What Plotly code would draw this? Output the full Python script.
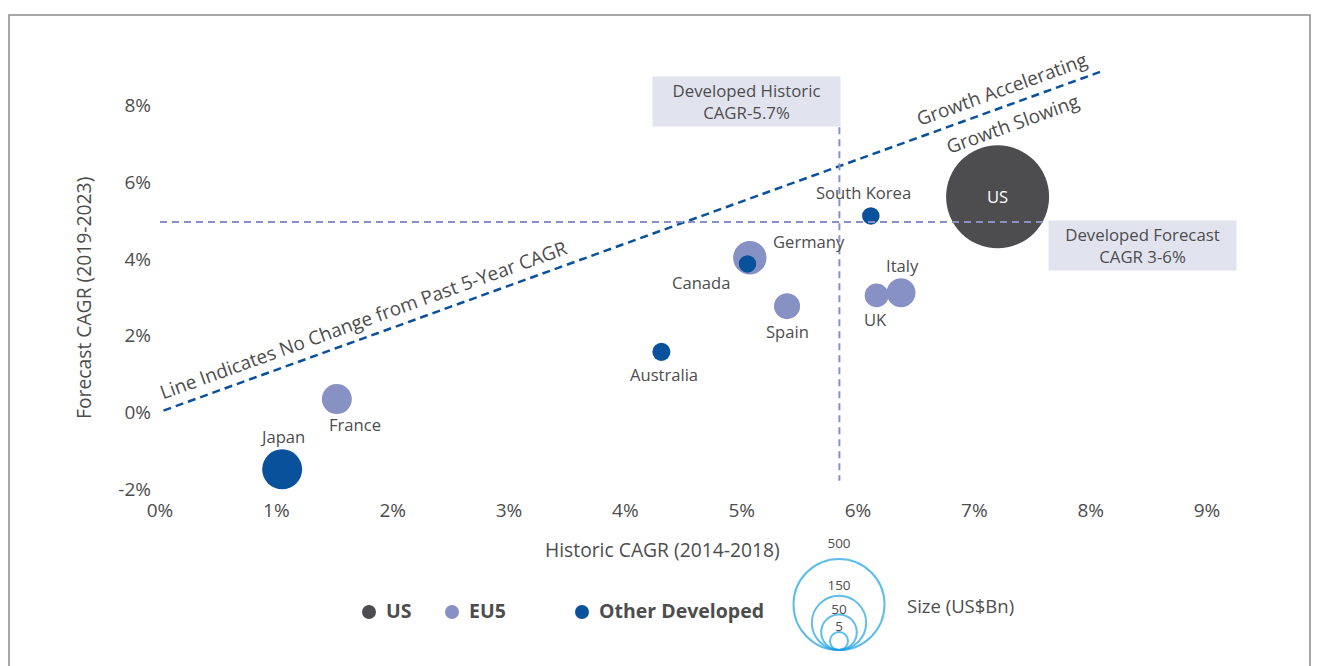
import numpy as np
import plotly.graph_objects as go

W, H = 1319, 666
OFF = 8  # page body margin around the figure

# data (CAGR in %, market size in US$Bn)
countries = ["US", "Japan", "France", "Germany", "Italy", "UK", "Spain",
             "Canada", "South Korea", "Australia"]
groups = ["US", "Other Developed", "EU5", "EU5", "EU5", "EU5", "EU5",
          "Other Developed", "Other Developed", "Other Developed"]
historic_cagr = [7.20, 1.05, 1.52, 5.07, 6.37, 6.16, 5.39, 5.05, 6.11, 4.31]
forecast_cagr = [5.62, -1.48, 0.35, 4.03, 3.12, 3.05, 2.77, 3.87, 5.12, 1.58]
market_size = [485, 73, 41, 51, 38, 26, 31, 14, 14, 15]

group_names = ["US", "EU5", "Other Developed"]
size_legend_values = [500, 150, 50, 5]

x_ticks = [0, 1, 2, 3, 4, 5, 6, 7, 8, 9]
y_ticks = [-2, 0, 2, 4, 6, 8]

# reference lines
hist_ref_x = 5.84
fcst_ref_y = 4.96
no_change_x = [0.03, 8.08]
no_change_y = [0.05, 8.87]

# styles
colors = {"US": "#4d4d4f", "EU5": "#8891c4", "Other Developed": "#0a519c"}
text_col = "#4d4d4d"
font = "Open Sans"

# label offsets (px) from bubble centre
label_shift = {
    "US": (0, 0), "Japan": (0, 33), "France": (18, -25), "Germany": (59, 16),
    "Italy": (1, 27), "UK": (-1, -24), "Spain": (0, -25), "Canada": (-46, -19),
    "South Korea": (-7, 23), "Australia": (3, -23),
}

k = 103 / np.sqrt(max(market_size))


def bubble_px(v):
    return k * np.sqrt(v)


# page pixel -> paper fraction
def px(x):
    return (x - OFF) / W


def py(y):
    return 1 - (y - OFF) / H


def paper_text(x, y, text, size, angle=0, **kw):
    fig.add_annotation(x=px(x), y=py(y), xref="paper", yref="paper",
                       xanchor="center", yanchor="middle", text=text,
                       showarrow=False, textangle=angle,
                       font=dict(family=font, size=size, color=text_col), **kw)


fig = go.Figure()

for g in group_names:
    idx = [i for i, gg in enumerate(groups) if gg == g]
    fig.add_trace(go.Scatter(
        x=[historic_cagr[i] for i in idx],
        y=[forecast_cagr[i] for i in idx],
        mode="markers",
        name=g,
        text=[countries[i] for i in idx],
        marker=dict(size=[bubble_px(market_size[i]) for i in idx],
                    color=colors[g], opacity=1, line=dict(width=0)),
        cliponaxis=False,
    ))

# dashed reference lines
fig.add_trace(go.Scatter(x=no_change_x, y=no_change_y, mode="lines",
                         line=dict(color="#0a519c", width=2.5, dash="8px,5px"),
                         hoverinfo="skip", cliponaxis=False))
fig.add_trace(go.Scatter(x=[0, 7.63], y=[fcst_ref_y, fcst_ref_y], mode="lines",
                         line=dict(color="#8891c4", width=2, dash="7px,5px"),
                         hoverinfo="skip", cliponaxis=False))
fig.add_trace(go.Scatter(x=[hist_ref_x, hist_ref_x], y=[7.43, -1.78], mode="lines",
                         line=dict(color="#8891c4", width=2, dash="7px,5px"),
                         hoverinfo="skip", cliponaxis=False))

# country labels
for c, x, y in zip(countries, historic_cagr, forecast_cagr):
    dx, dy = label_shift[c]
    fig.add_annotation(x=x, y=y, text=c, showarrow=False, xshift=dx, yshift=dy,
                       xanchor="center", yanchor="middle",
                       font=dict(family=font, size=16.6,
                                 color="white" if c == "US" else text_col))

# bottom legend on an invisible pixel-scaled overlay (y counted up from page bottom)
leg_x = [369, 452, 582]
leg_y = 53
for g, lx in zip(group_names, leg_x):
    fig.add_trace(go.Scatter(
        x=[lx], y=[leg_y + 1], mode="markers",
        marker=dict(size=14, color=colors[g]),
        xaxis="x2", yaxis="y2", cliponaxis=False, hoverinfo="skip"))
    fig.add_trace(go.Scatter(
        x=[lx + 17], y=[leg_y], mode="text", text=["<b>" + g + "</b>"],
        textposition="middle right",
        textfont=dict(family=font, size=19.5, color=text_col),
        xaxis="x2", yaxis="y2", cliponaxis=False, hoverinfo="skip"))

r_leg = [1.814 * np.sqrt(v) + 4.94 for v in size_legend_values]
fig.add_trace(go.Scatter(
    x=[839] * len(r_leg), y=[16 + r for r in r_leg], mode="markers",
    marker=dict(symbol="circle-open", size=[2 * r for r in r_leg],
                color="#1ba1e2", line=dict(width=2)),
    xaxis="x2", yaxis="y2", cliponaxis=False, hoverinfo="skip"))
label_gap = [14, 9, 3.5, 4]
fig.add_trace(go.Scatter(
    x=[839] * len(r_leg), y=[16 + 2 * r + gp for r, gp in zip(r_leg, label_gap)],
    mode="text", text=[str(v) for v in size_legend_values],
    textposition="middle center",
    textfont=dict(family=font, size=13.5, color=text_col),
    xaxis="x2", yaxis="y2", cliponaxis=False, hoverinfo="skip"))
paper_text(960, 605, "Size (US$Bn)", 18.5)

# boxes
paper_text(746.5, 101.5, "Developed Historic<br>CAGR-5.7%", 16.8,
           width=187, height=49, bgcolor="#e1e3ef", borderpad=0)
paper_text(1142, 245.5, "Developed Forecast<br>CAGR 3-6%", 16.8,
           width=187, height=49, bgcolor="#e1e3ef", borderpad=0)

# rotated texts
paper_text(363, 320, "Line Indicates No Change from Past 5-Year CAGR", 19, -19.8)
paper_text(1002, 89, "Growth Accelerating", 19, -19.8)
paper_text(1012, 124, "Growth Slowing", 19, -19.8)

# axis titles
paper_text(662, 549, "Historic CAGR (2014-2018)", 19.3)
paper_text(83, 298, "Forecast CAGR (2019-2023)", 19.3, -90)

# frame
fig.add_shape(type="rect", xref="paper", yref="paper",
              x0=px(9), x1=px(1310), y0=-0.05, y1=py(15),
              line=dict(color="#8c8c8c", width=1.5))

tick_font = dict(family=font, size=19, color=text_col)
fig.update_layout(
    width=W, height=H,
    margin=dict(l=0, r=0, t=0, b=0, autoexpand=False),
    paper_bgcolor="white", plot_bgcolor="white",
    showlegend=False,
    xaxis=dict(domain=[px(160), px(1207)], range=[0, 9], tickvals=x_ticks,
               ticktext=[f"{t}%" for t in x_ticks], showgrid=False,
               zeroline=False, showline=False, tickfont=tick_font,
               ticklabelstandoff=8, automargin=False),
    yaxis=dict(domain=[py(489.3), py(46.6)], range=[-2, 9.53],
               tickvals=y_ticks, ticktext=[f"{t}%" for t in y_ticks],
               showgrid=False, zeroline=False, showline=False,
               tickfont=tick_font, ticklabelstandoff=8, automargin=False),
    xaxis2=dict(domain=[0, 1], range=[OFF, W + OFF], visible=False, anchor="y2",
                automargin=False),
    yaxis2=dict(domain=[0, 133 / H], range=[-OFF, 133 - OFF], visible=False,
                anchor="x2", automargin=False),
)

fig.write_html("out.html")
